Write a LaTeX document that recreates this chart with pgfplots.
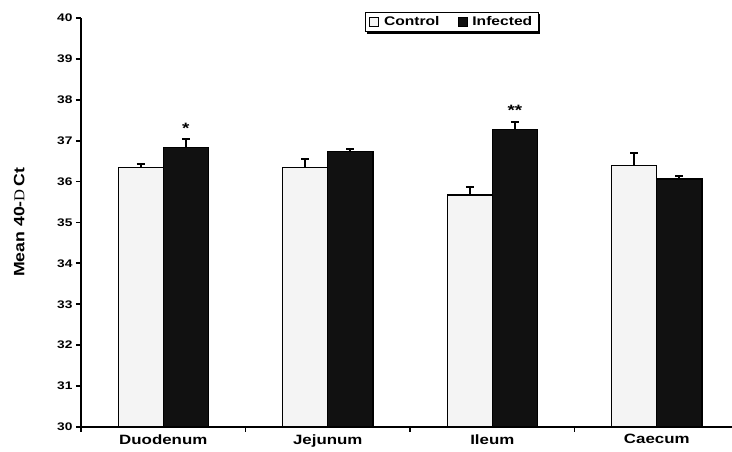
\documentclass[border=0pt]{standalone}
\usepackage{fontspec}
\setmainfont{Liberation Sans}[FakeStretch=1.25]
\newfontfamily\ylabfont{Liberation Sans}[FakeStretch=1.18]
\newfontfamily\serifD{Liberation Serif}[FakeStretch=1.1]
\usepackage{pgfplots}
\pgfplotsset{compat=1.18}
\usetikzlibrary{shadows}
\makeatletter
\tikzset{no preactions/.code={\let\tikz@preactions\pgfutil@empty}}
\makeatother
\definecolor{ctrl}{HTML}{F4F4F4}
\definecolor{inf}{HTML}{111111}

\pgfplotstableread{
x y e
0 36.35 0.07
1 36.35 0.21
2 35.67 0.19
3 36.40 0.30
}\control
\pgfplotstableread{
x y e
0 36.83 0.21
1 36.74 0.06
2 37.28 0.17
3 36.06 0.07
}\infected

\begin{document}
\begin{tikzpicture}
\begin{axis}[
  scale only axis, width=651pt, height=409pt,
  ybar=0pt, bar width=0.274,
  xmin=-0.5, xmax=3.457,
  ymin=30, ymax=40,
  ytick={30,31,...,40},
  axis lines=left,
  axis line style={line width=2.2pt, -},
  tick align=outside,
  tick style={line width=1.8pt, black},
  major tick length=5pt,
  xtick={-0.5,0.5,1.5,2.5,3.5},
  xticklabels={,,,,},
  extra x ticks={0,1,2,3},
  extra x tick labels={Duodenum,Jejunum,Ileum,Caecum},
  extra x tick style={major tick length=0pt, tick label style={yshift=-4pt, font=\bfseries\fontsize{13.5}{15}\selectfont}},
  /pgf/number format/assume math mode=true,
  yticklabel style={font=\bfseries\fontsize{11}{13}\selectfont},
  ylabel={Mean 40-{\serifD\mdseries D}\,Ct},
  ylabel style={at={(axis description cs:-0.095,0.5)}, anchor=center, font=\ylabfont\bfseries\fontsize{15}{17}\selectfont},
  clip=false,
  legend columns=2,
  legend style={at={(axis description cs:0.5695,0.99)}, anchor=center,
    draw=black, line width=1pt, fill=white,
    drop shadow={shadow xshift=2pt, shadow yshift=-2pt, fill=black, opacity=1},
    font=\bfseries\fontsize{12.5}{14}\selectfont,
    inner xsep=4pt, inner ysep=2.5pt,
    /tikz/every odd column/.append style={column sep=3pt},
    /tikz/every even column/.append style={column sep=16pt}},
  legend image code/.code={\draw[#1,/tikz/.cd,no preactions,bar width=9pt,yshift=-4.3pt,bar shift=0pt,line width=0.8pt] plot coordinates {(4.5pt,8.6pt)};},
  error bars/y dir=plus, error bars/y explicit, error bars/error mark=|,
  error bars/error bar style={line width=2pt, black},
  error bars/error mark options={line width=2pt, mark size=4pt, black},
]
\addplot[fill=ctrl, draw=black, line width=1.3pt]
  table[x=x, y=y, y error=e] {\control};
\addplot[fill=inf, draw=black, line width=1.3pt]
  table[x=x, y=y, y error=e] {\infected};
\legend{Control, Infected}
\node[font=\bfseries\fontsize{15}{16}\selectfont] at (axis cs:0.137,37.30) {*};
\node[font=\bfseries\fontsize{15}{16}\selectfont] at (axis cs:2.137,37.74) {**};
\end{axis}
\pgfresetboundingbox
\path[use as bounding box] ([xshift=-81pt,yshift=-25pt]current axis.south west) rectangle ([yshift=18pt]current axis.north east);
\end{tikzpicture}
\end{document}
